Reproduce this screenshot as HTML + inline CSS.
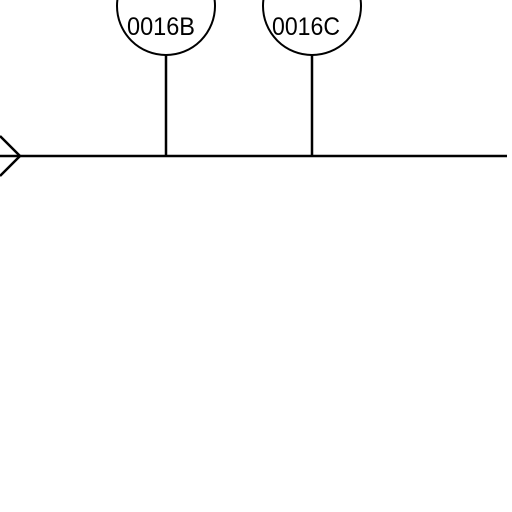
<!DOCTYPE html>
<html><head><meta charset="utf-8"><style>html,body{margin:0;padding:0;background:#fff;width:512px;height:512px;overflow:hidden}</style></head>
<body>
<svg width="512" height="512" viewBox="0 0 512 512" style="display:block">
<g stroke="#000" stroke-width="2.5" fill="none">
<line x1="0" y1="156" x2="507" y2="156"/>
<polyline points="0,136 20,156 0,176"/>
<line x1="166" y1="55" x2="166" y2="156"/>
<line x1="312" y1="55" x2="312" y2="156"/>
<circle cx="166" cy="6" r="49" stroke-width="2"/>
<circle cx="312" cy="6" r="49" stroke-width="2"/>
</g>
<g font-family="Liberation Sans, sans-serif" font-size="25" fill="#000">
<text x="127" y="35" textLength="68" lengthAdjust="spacingAndGlyphs">0016B</text>
<text x="272" y="35" textLength="68" lengthAdjust="spacingAndGlyphs">0016C</text>
</g>
</svg>
</body></html>
